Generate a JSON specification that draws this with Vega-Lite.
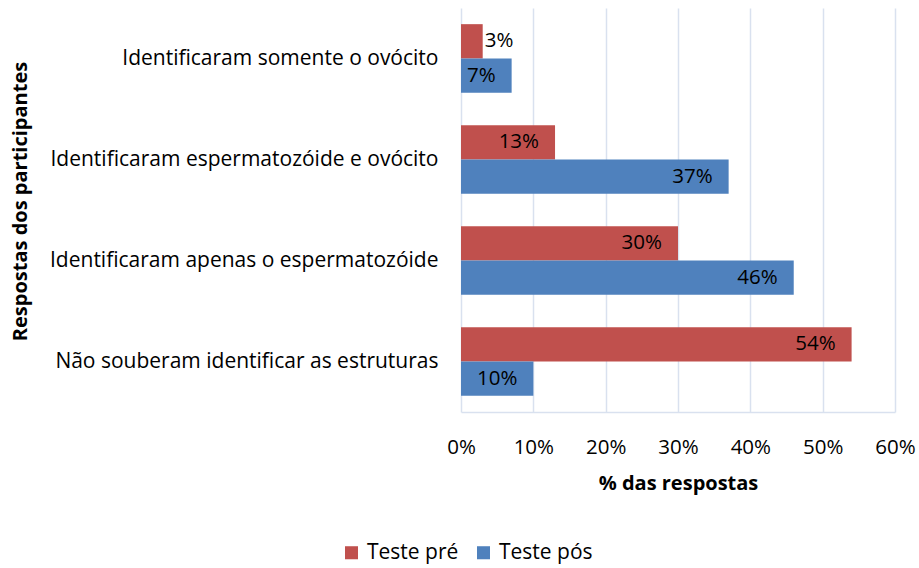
{
  "$schema": "https://vega.github.io/schema/vega-lite/v6.json",
  "autosize": {"type": "none"},
  "padding": {"left": 461, "top": 8, "right": 24, "bottom": 156},
  "width": 434,
  "height": 404,
  "config": {
    "font": "Open Sans",
    "view": {"stroke": null},
    "axis": {"labelFont": "Open Sans", "titleFont": "Open Sans", "labelColor": "#000", "titleColor": "#000"},
    "legend": {"labelFont": "Open Sans"}
  },
  "data": {
    "values": [
      {"cat": "Identificaram somente o ovócito", "serie": "Teste pré", "v": 0.03},
      {"cat": "Identificaram somente o ovócito", "serie": "Teste pós", "v": 0.07},
      {"cat": "Identificaram espermatozóide e ovócito", "serie": "Teste pré", "v": 0.13},
      {"cat": "Identificaram espermatozóide e ovócito", "serie": "Teste pós", "v": 0.37},
      {"cat": "Identificaram apenas o espermatozóide", "serie": "Teste pré", "v": 0.30},
      {"cat": "Identificaram apenas o espermatozóide", "serie": "Teste pós", "v": 0.46},
      {"cat": "Não souberam identificar as estruturas", "serie": "Teste pré", "v": 0.54},
      {"cat": "Não souberam identificar as estruturas", "serie": "Teste pós", "v": 0.10}
    ]
  },
  "encoding": {
    "y": {
      "field": "cat", "type": "nominal", "sort": null,
      "scale": {"paddingInner": 0.32, "paddingOuter": 0.16},
      "axis": {
        "title": "Respostas dos participantes", "titleFontSize": 20, "titleFontWeight": "bold",
        "titleX": -441, "titleY": 193, "titleAngle": -90, "titleBaseline": "middle",
        "labelFontSize": 21, "labelPadding": 23, "ticks": false, "domain": false,
        "labelLimit": 500
      }
    },
    "yOffset": {"field": "serie", "type": "nominal", "sort": ["Teste pré", "Teste pós"]},
    "x": {
      "field": "v", "type": "quantitative",
      "scale": {"domain": [0, 0.6]},
      "axis": {
        "title": "% das respostas", "titleFontSize": 20, "titleFontWeight": "bold", "titlePadding": 16,
        "values": [0, 0.1, 0.2, 0.3, 0.4, 0.5, 0.6], "format": ".0%", "labelFlush": false, "labelOverlap": false,
        "labelFontSize": 20.5, "labelPadding": 25, "ticks": false,
        "domainColor": "#D9E1EF", "gridColor": "#D9E1EF", "gridWidth": 1.5, "domainWidth": 1.5
      }
    }
  },
  "layer": [
    {
      "mark": {"type": "bar"},
      "encoding": {
        "color": {
          "field": "serie", "type": "nominal",
          "scale": {"domain": ["Teste pré", "Teste pós"], "range": ["#C0504D", "#4F81BD"]},
          "legend": {
            "title": null, "orient": "none", "direction": "horizontal",
            "legendX": -120, "legendY": 534, "symbolType": "square", "symbolSize": 170,
            "labelFontSize": 21, "labelColor": "#000", "columnPadding": 14, "labelOffset": 5, "symbolStrokeWidth": 0
          }
        }
      }
    },
    {
      "transform": [{"filter": "datum.v >= 0.05"}],
      "mark": {"type": "text", "align": "right", "dx": -16, "fontSize": 20.5, "color": "#000"},
      "encoding": {"text": {"field": "v", "type": "quantitative", "format": ".0%"}, "detail": {"field": "serie"}}
    },
    {
      "transform": [{"filter": "datum.v < 0.05"}],
      "mark": {"type": "text", "align": "left", "dx": 2, "fontSize": 20.5, "color": "#000"},
      "encoding": {"text": {"field": "v", "type": "quantitative", "format": ".0%"}, "detail": {"field": "serie"}}
    }
  ]
}
